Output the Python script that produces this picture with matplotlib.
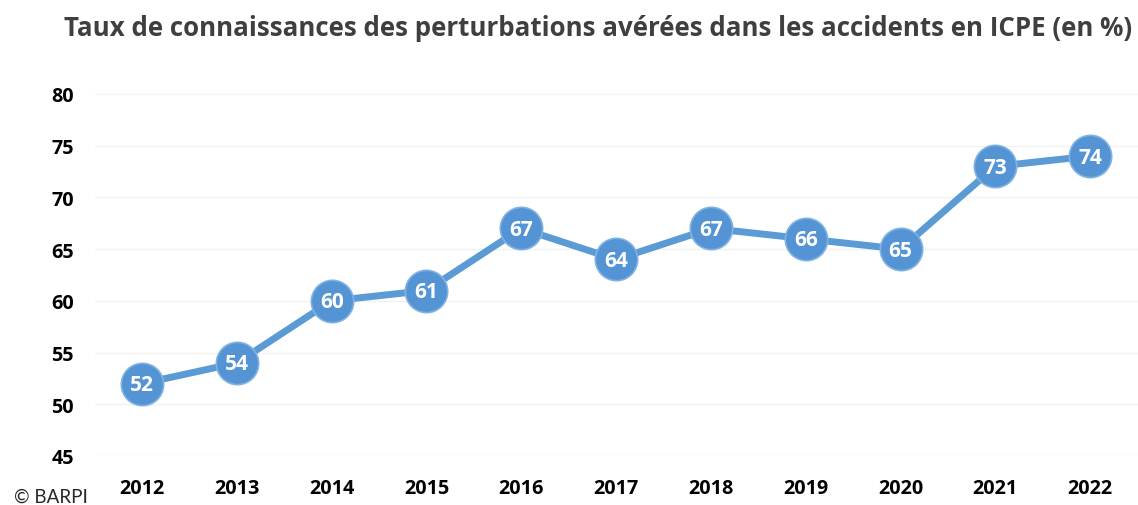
import matplotlib
matplotlib.use("Agg")
import matplotlib.pyplot as plt

years = ["2012", "2013", "2014", "2015", "2016", "2017", "2018", "2019", "2020", "2021", "2022"]
values = [52, 54, 60, 61, 67, 64, 67, 66, 65, 73, 74]
yticks = [45, 50, 55, 60, 65, 70, 75, 80]

W, H = 1138, 506
fig = plt.figure(figsize=(W / 100, H / 100), dpi=100)
ax = fig.add_axes([94.6 / W, 1 - 457 / H, (1137.6 - 94.6) / W, (457 - 95) / H])

x = list(range(len(years)))
ax.plot(x, values, color="#5B9BD5", lw=5, zorder=2, solid_capstyle="round")
ax.scatter(x, values, s=930, color="#5494D4", edgecolor="#80B3E4", linewidth=1.2, zorder=3)
for xi, v in zip(x, values):
    ax.text(xi, v - 0.1, str(v), color="white", fontsize=15, fontweight="bold",
            ha="center", va="center", family="Open Sans", zorder=4)

ax.set_xlim(-0.5, len(years) - 0.5)
ax.set_ylim(45, 80)
ax.set_yticks(yticks)
ax.set_xticks(x)
ax.set_xticklabels(years)
ax.grid(axis="y", color="#F2F2F2", lw=1)
ax.set_axisbelow(True)
for s in ax.spines.values():
    s.set_visible(False)
ax.tick_params(length=0, labelsize=14.2, colors="black")
ax.tick_params(axis="y", pad=15)
ax.tick_params(axis="x", pad=16)
for lab in ax.get_xticklabels() + ax.get_yticklabels():
    lab.set_fontweight("bold")
    lab.set_family("Open Sans")

fig.text(598 / W, 1 - 28 / H, "Taux de connaissances des perturbations avérées dans les accidents en ICPE (en %)",
         ha="center", va="center", fontsize=18.6, fontweight="bold", color="#3F3F3F", family="Open Sans")
fig.text(14 / W, 1 - 497 / H, "© BARPI", ha="left", va="center", fontsize=13.5, color="#262626", family="Lato")

fig.savefig("out.png", dpi=100)
